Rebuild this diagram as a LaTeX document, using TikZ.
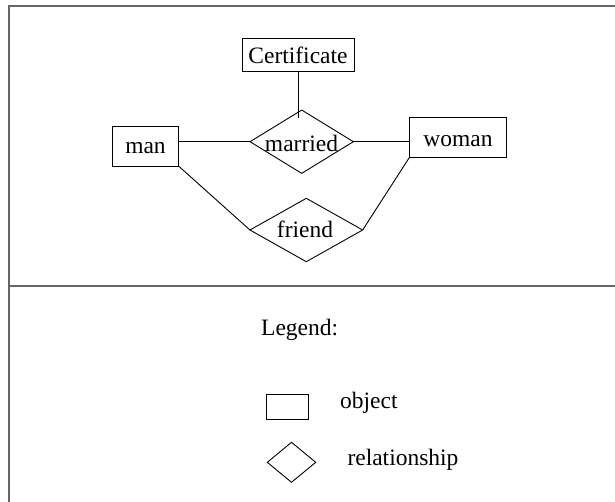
\documentclass[tikz,border=0pt]{standalone}
\usepackage{fontspec}
\setmainfont{Liberation Serif}
\usetikzlibrary{shapes.geometric}
\begin{document}
\begin{tikzpicture}[x=1pt,y=-1pt,
  obj/.style={draw, rectangle, line width=0.9pt, inner sep=0pt, outer sep=0pt},
  rel/.style={draw, diamond, line width=0.9pt, inner sep=0pt, outer sep=0pt},
  txt/.style={inner sep=0pt, font=\fontsize{23.5}{28}\selectfont},
  frame/.style={draw=black!60, line width=1.6pt},
  conn/.style={line width=0.9pt}]
\useasboundingbox (0,0) rectangle (615,502);
% frame
\draw[frame] (9,502) -- (9,6) -- (615,6);
\draw[frame] (9,286) -- (615,286);
% shapes
\node[obj, minimum width=112, minimum height=33] (cert) at (298,54.5) {};
\node[txt, anchor=base] (certt) at (298,63.3) {Certificate};
\node[obj, minimum width=66, minimum height=40] (man) at (145.5,146) {};
\node[txt, anchor=base] (mant) at (145.5,153.3) {man};
\node[obj, minimum width=97.5, minimum height=40] (woman) at (458,137.7) {};
\node[txt, anchor=base] (womant) at (458,146.7) {woman};
\node[rel, minimum width=103.3, minimum height=63.3] (married) at (301.7,141.7) {};
\node[txt, anchor=base] (marriedt) at (301.5,151.7) {married};
\node[rel, minimum width=112.7, minimum height=63.4] (friend) at (306.3,230) {};
\node[txt, anchor=base] (friendt) at (305,238) {friend};
% connectors
\coordinate (mtop) at (298,118);
\draw[conn] (cert.south) -- (mtop);
\draw[conn] (married.west -| man.east) -- (married.west);
\draw[conn] (married.east) -- (married.east -| woman.west);
\draw[conn] (man.south east) -- (friend.west);
\draw[conn] (woman.south west) -- (friend.east);
% legend
\node[txt, anchor=base west] (legend) at (261,335) {Legend:};
\node[obj, minimum width=41.6, minimum height=25] (lobj) at (287.5,406.5) {};
\node[txt, anchor=base west] (lobjt) at (340,408) {object};
\node[rel, minimum width=48.4, minimum height=40] (lrel) at (291.5,462.3) {};
\node[txt, anchor=base west] (lrelt) at (347.3,465) {relationship};
\end{tikzpicture}
\end{document}
